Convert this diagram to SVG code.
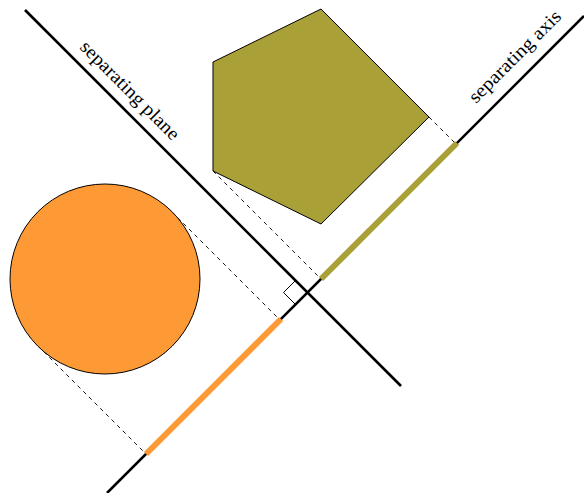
<svg xmlns="http://www.w3.org/2000/svg" width="584" height="493" viewBox="0 0 584 493">
<style>
.line{stroke:#000;stroke-width:2.6;fill:none}
.dash{stroke:#000;stroke-width:0.9;stroke-dasharray:4 4;fill:none}
.shape{stroke:#000;stroke-width:1}
.lbl{font-family:"Liberation Serif","DejaVu Serif",serif;font-size:19px;fill:#000}
</style>
<rect width="584" height="493" fill="#fff"/>
<g id="connectors">
<line class="dash" x1="172" y1="212" x2="280" y2="320"/>
<line class="dash" x1="38" y1="346" x2="146" y2="454"/>
<line class="dash" x1="213" y1="171" x2="321" y2="279"/>
<line class="dash" x1="429" y1="117" x2="456" y2="144"/>
</g>
<g id="circle"><circle class="shape" cx="105" cy="279" r="95" fill="#fd9a35"/></g>
<g id="pentagon"><polygon class="shape" points="213,62 321,9 429,117 321,224 213,171" fill="#a9a037"/></g>
<g id="separating-plane">
<line class="line" x1="25" y1="10" x2="401" y2="386"/>
<text class="lbl" transform="translate(79,48) rotate(45)" textLength="132" lengthAdjust="spacingAndGlyphs">separating plane</text>
</g>
<g id="separating-axis">
<line class="line" x1="107" y1="493" x2="584" y2="16"/>
<line stroke="#a9a037" stroke-width="6" x1="321" y1="279" x2="457" y2="143"/>
<line stroke="#fd9a35" stroke-width="6" x1="146" y1="454" x2="281" y2="319"/>
<text class="lbl" transform="translate(476,104) rotate(-45)" textLength="122" lengthAdjust="spacingAndGlyphs">separating axis</text>
</g>
<g id="right-angle"><polyline points="295.5,280.5 283.5,292.5 295.5,304.5" fill="none" stroke="#000" stroke-width="1"/></g>
</svg>
